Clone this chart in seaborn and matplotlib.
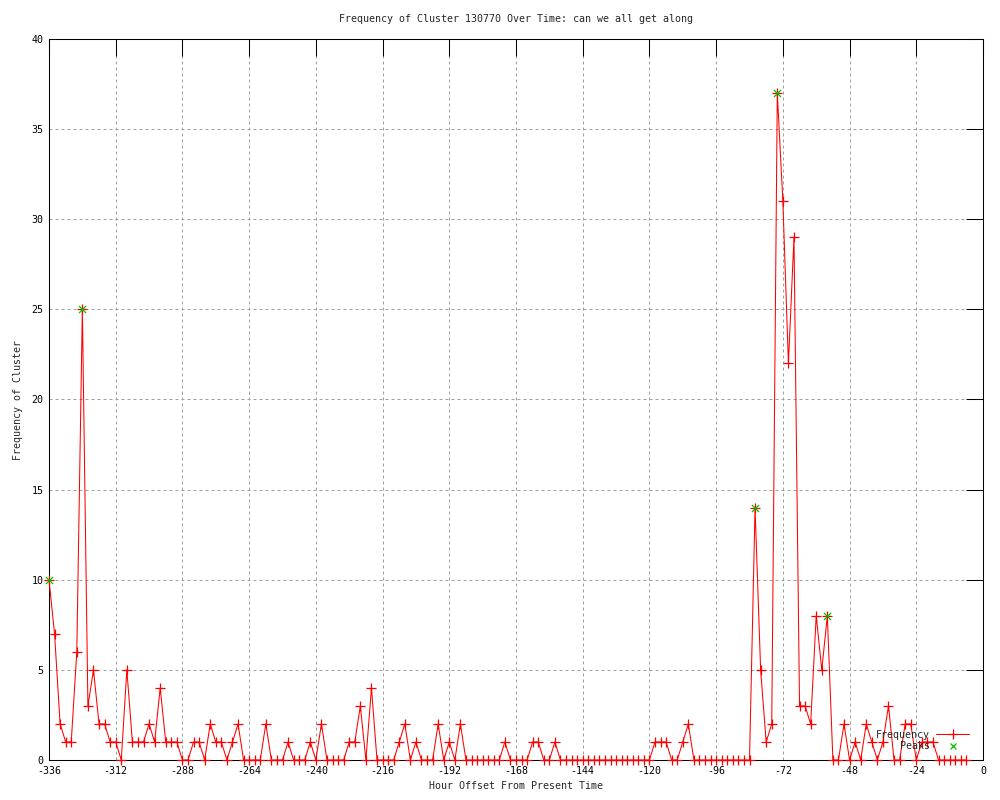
import matplotlib
matplotlib.use('Agg')
import matplotlib.pyplot as plt
from matplotlib.lines import Line2D
import seaborn as sns
import numpy as np
import pandas as pd

# hour offsets, one reading every 2 hours
hours = np.arange(-336, -5, 2)
freq = [
    10, 7, 2, 1, 1, 6, 25, 3, 5, 2, 2, 1,      # -336 .. -314
    1, 0, 5, 1, 1, 1, 2, 1, 4, 1, 1, 1,        # -312 .. -290
    0, 0, 1, 1, 0, 2, 1, 1, 0, 1, 2, 0,        # -288 .. -266
    0, 0, 0, 2, 0, 0, 0, 1, 0, 0, 0, 1,        # -264 .. -242
    0, 2, 0, 0, 0, 0, 1, 1, 3, 0, 4, 0,        # -240 .. -218
    0, 0, 0, 1, 2, 0, 1, 0, 0, 0, 2, 0,        # -216 .. -194
    1, 0, 2, 0, 0, 0, 0, 0, 0, 0, 1, 0,        # -192 .. -170
    0, 0, 0, 1, 1, 0, 0, 1, 0, 0, 0, 0,        # -168 .. -146
    0, 0, 0, 0, 0, 0, 0, 0, 0, 0, 0, 0,        # -144 .. -122
    0, 1, 1, 1, 0, 0, 1, 2, 0, 0, 0, 0,        # -120 .. -98
    0, 0, 0, 0, 0, 0, 0, 14, 5, 1, 2, 37,      # -96 .. -74
    31, 22, 29, 3, 3, 2, 8, 5, 8, 0, 0, 2,     # -72 .. -50
    0, 1, 0, 2, 1, 0, 1, 3, 0, 0, 2, 2,        # -48 .. -26
    0, 1, 1, 1, 0, 0, 0, 0, 0, 0,              # -24 .. -6
]
peak_hours = [-336, -324, -82, -74, -56]
peak_vals = [10, 25, 14, 37, 8]

x_ticks = list(range(-336, 1, 24))
y_ticks = list(range(0, 41, 5))

df = pd.DataFrame({"hour": hours, "freq": freq})
peaks = pd.DataFrame({"hour": peak_hours, "freq": peak_vals})

sns.set_style("white")
plt.rcParams['font.family'] = ['DejaVu Sans Mono']
plt.rcParams['font.size'] = 7.2
plt.rcParams['axes.unicode_minus'] = False

fig = plt.figure(figsize=(10, 8), dpi=100)
ax = fig.add_axes([0.049, 0.05, 0.934, 0.90125])

sns.lineplot(data=df, x="hour", y="freq", color="#ff0000", linewidth=0.75,
             marker="+", markersize=7, markeredgewidth=0.9,
             markeredgecolor="#ff0000", ax=ax, zorder=3, clip_on=False)
sns.scatterplot(data=peaks, x="hour", y="freq", marker="x", color="#00c000",
                s=26, linewidth=0.9, ax=ax, zorder=4, clip_on=False)

ax.set_xlim(-336, 0)
ax.set_ylim(0, 40)
ax.set_xticks(x_ticks)
ax.set_yticks(y_ticks)
ax.grid(True, color="#a0a0a0", linewidth=0.72, linestyle=(0, (3, 3)))
ax.tick_params(direction="in", length=12, width=0.75, top=True, right=True,
               labelsize=7.2, colors="black", pad=4)
for s in ax.spines.values():
    s.set_color("black")
    s.set_linewidth(0.75)

ax.set_title("Frequency of Cluster 130770 Over Time: can we all get along",
             fontsize=7.2, pad=12)
ax.set_xlabel("Hour Offset From Present Time", fontsize=7.2, labelpad=4)
ax.set_ylabel("Frequency of Cluster", fontsize=7.2, labelpad=6)

handles = [
    Line2D([], [], color="#ff0000", linewidth=0.75, marker="+", markersize=7,
           markeredgewidth=0.9),
    Line2D([], [], color="#00c000", linestyle="none", marker="x", markersize=5,
           markeredgewidth=0.9),
]
ax.legend(handles, ["Frequency", "Peaks"], loc="lower right", markerfirst=False,
          frameon=False, fontsize=7.2, handlelength=3.3, handletextpad=0.6,
          labelspacing=0.15, bbox_to_anchor=(0.995, 0.0))

fig.savefig("out.png", dpi=100)
